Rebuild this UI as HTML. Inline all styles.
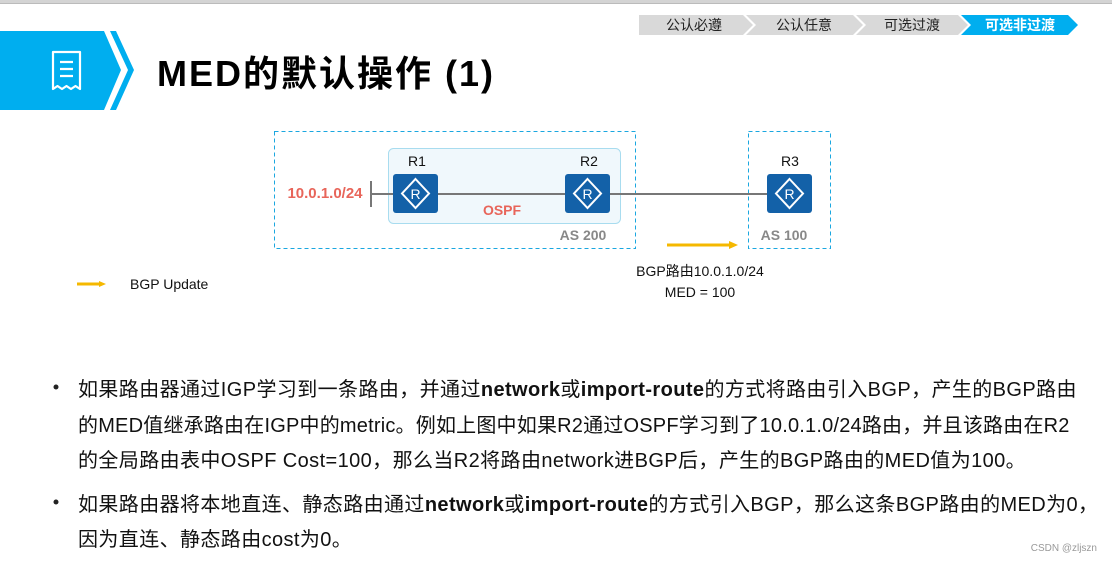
<!DOCTYPE html>
<html><head><meta charset="utf-8"><style>
*{margin:0;padding:0}
body{width:1112px;height:563px;position:relative;background:#fff;overflow:hidden;font-family:"Liberation Sans","Noto Sans CJK SC",sans-serif}
.a{position:absolute;white-space:nowrap}
.t{font-size:20px;color:#111;left:78px;letter-spacing:0.4px}
b{font-weight:bold}
</style></head><body>
<div class="a" style="left:0;top:0;width:1112px;height:3px;background:#d4d4d4;border-bottom:1px solid #bbb"></div>
<svg class="a" style="left:0;top:0" width="1112" height="563">
<polygon points="0,31 104,31 121,70 104,110 0,110" fill="#00aeef"/>
<polygon points="110,31 116,31 134,70 116,110 110,110 128,70" fill="#00aeef"/>
<g fill="none" stroke="#fff" stroke-width="2.2">
<path d="M53,52 h27 v37 l-4.5,-3 -4.5,3 -4.5,-3 -4.5,3 -4.5,-3 -4.5,3 z" stroke-linejoin="round"/>
<path d="M60,62h13M60,69h13M60,76h13"/>
</g>
<polygon points="639,15 743,15 753,25 743,35 639,35" fill="#d9d9d9"/>
<polygon points="746,15 853,15 863,25 853,35 746,35 756,25" fill="#d9d9d9"/>
<polygon points="856,15 958,15 968,25 958,35 856,35 866,25" fill="#d9d9d9"/>
<polygon points="961,15 1068,15 1078,25 1068,35 961,35 971,25" fill="#00aeef"/>
<text x="694" y="30" font-size="14" text-anchor="middle" fill="#222">公认必遵</text>
<text x="804" y="30" font-size="14" text-anchor="middle" fill="#222">公认任意</text>
<text x="912" y="30" font-size="14" text-anchor="middle" fill="#222">可选过渡</text>
<text x="1020" y="30" font-size="14" text-anchor="middle" fill="#fff" font-weight="bold">可选非过渡</text>
<rect x="274.5" y="131.5" width="361" height="117" fill="none" stroke="#1aa7e0" stroke-dasharray="4,3"/>
<rect x="748.5" y="131.5" width="82" height="117" fill="none" stroke="#1aa7e0" stroke-dasharray="4,3"/>
<rect x="388.5" y="148.5" width="232" height="75" rx="5" fill="#f0f8fc" stroke="#a8dcef"/>
<path d="M371,194H767M371,181V207" stroke="#777" stroke-width="2"/>
<g id="r"><rect x="393" y="174" width="45" height="39" rx="3" fill="#1361a8"/>
<polygon points="415.5,179 429,193.5 415.5,208 402,193.5" fill="none" stroke="#fff" stroke-width="2"/>
<text x="415.5" y="199" font-size="14" text-anchor="middle" fill="#fff">R</text></g>
<use href="#r" x="172"/><use href="#r" x="374"/>
<text x="417" y="166" font-size="14" text-anchor="middle" fill="#111">R1</text>
<text x="589" y="166" font-size="14" text-anchor="middle" fill="#111">R2</text>
<text x="790" y="166" font-size="14" text-anchor="middle" fill="#111">R3</text>
<text x="325" y="198" font-size="15" font-weight="bold" text-anchor="middle" fill="#e8655a">10.0.1.0/24</text>
<text x="502" y="215" font-size="14" font-weight="bold" text-anchor="middle" fill="#e8655a">OSPF</text>
<text x="583" y="240" font-size="14" font-weight="bold" text-anchor="middle" fill="#888">AS 200</text>
<text x="784" y="240" font-size="14" font-weight="bold" text-anchor="middle" fill="#888">AS 100</text>
<path d="M667,245H731" stroke="#f5b800" stroke-width="3"/><polygon points="729,241 738,245 729,249" fill="#f5b800"/>
<path d="M77,284H100" stroke="#f5b800" stroke-width="3"/><polygon points="99,281 106,284 99,287" fill="#f5b800"/>
<text x="130" y="289" font-size="14" fill="#111">BGP Update</text>
<text x="700" y="276" font-size="14" text-anchor="middle" fill="#111">BGP路由10.0.1.0/24</text>
<text x="700" y="297" font-size="14" text-anchor="middle" fill="#111">MED = 100</text>
<circle cx="56" cy="387" r="2.5" fill="#222"/><circle cx="56" cy="502" r="2.5" fill="#222"/>
<text x="1097" y="551" font-size="10" text-anchor="end" fill="#999">CSDN @zljszn</text>
</svg>
<div class="a" style="left:157px;top:45px;font-size:36px;font-weight:bold;color:#000;letter-spacing:2px">MED的默认操作 (1)</div>
<div class="a t" style="top:373px">如果路由器通过IGP学习到一条路由，并通过<b>network</b>或<b>import-route</b>的方式将路由引入BGP，产生的BGP路由</div>
<div class="a t" style="top:409px;letter-spacing:0.2px">的MED值继承路由在IGP中的metric。例如上图中如果R2通过OSPF学习到了10.0.1.0/24路由，并且该路由在R2</div>
<div class="a t" style="top:444px">的全局路由表中OSPF Cost=100，那么当R2将路由network进BGP后，产生的BGP路由的MED值为100。</div>
<div class="a t" style="top:488px">如果路由器将本地直连、静态路由通过<b>network</b>或<b>import-route</b>的方式引入BGP，那么这条BGP路由的MED为0，</div>
<div class="a t" style="top:523px">因为直连、静态路由cost为0。</div>
</body></html>
